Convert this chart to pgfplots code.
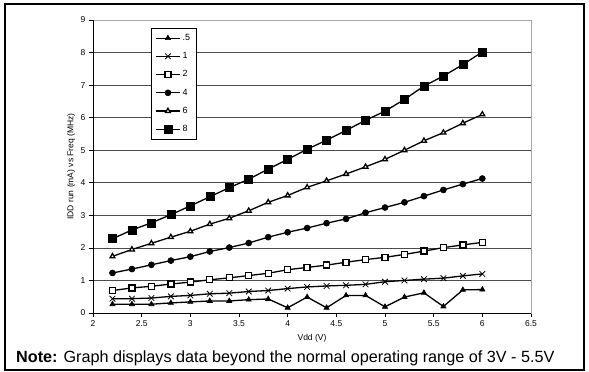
\documentclass[border=0pt]{standalone}
\usepackage{fontspec}
\setmainfont{Liberation Sans}
\usepackage{pgfplots}
\usepackage{pgfplotstable}
\pgfplotsset{compat=1.18}
\pgfplotstableread{
x a b c d e f
2.2 0.27 0.44 0.69 1.23 1.74 2.28
2.4 0.27 0.44 0.77 1.35 1.95 2.55
2.6 0.27 0.46 0.82 1.48 2.14 2.77
2.8 0.31 0.51 0.89 1.61 2.33 3.02
3.0 0.34 0.54 0.95 1.73 2.51 3.29
3.2 0.37 0.59 1.02 1.89 2.73 3.57
3.4 0.37 0.61 1.08 2.01 2.91 3.85
3.6 0.41 0.66 1.15 2.15 3.14 4.11
3.8 0.43 0.69 1.22 2.33 3.40 4.42
4.0 0.16 0.75 1.33 2.48 3.61 4.72
4.2 0.49 0.80 1.40 2.61 3.86 5.03
4.4 0.16 0.83 1.47 2.76 4.06 5.31
4.6 0.54 0.85 1.56 2.89 4.27 5.61
4.8 0.54 0.88 1.64 3.08 4.49 5.92
5.0 0.19 0.96 1.71 3.24 4.72 6.20
5.2 0.49 1.00 1.80 3.40 5.00 6.56
5.4 0.62 1.04 1.90 3.59 5.29 6.97
5.6 0.20 1.07 2.01 3.78 5.54 7.28
5.8 0.71 1.14 2.09 3.96 5.83 7.63
6.0 0.72 1.20 2.17 4.13 6.10 8.02
}\datatable
\begin{document}
\begin{tikzpicture}[x=1pt,y=1pt]
\begin{axis}[
  scale only axis,
  width=438pt, height=293pt,
  xmin=2, xmax=6.5, ymin=0, ymax=9,
  xtick={2,2.5,...,6.5}, ytick={0,1,...,9},
  tick align=outside, xtick pos=left, ytick pos=left,
  major tick length=4pt,
  tick style={black, line width=0.6pt},
  /pgf/number format/assume math mode=true,
  ticklabel style={font=\fontsize{8.5}{9}\selectfont},
  ymajorgrids, major grid style={black!70, line width=0.7pt},
  axis line style={draw=gray!70, line width=0.8pt},
  every axis y label/.style={at={(axis description cs:-0.05,0.5)}, rotate=90, anchor=center, font=\fontsize{8.5}{9}\selectfont},
  every axis x label/.style={at={(axis description cs:0.5,-0.087)}, anchor=center, font=\fontsize{8.5}{9}\selectfont},
  xlabel={Vdd (V)},
  ylabel={IDD run (mA) vs Freq (MHz)},
  legend style={at={(0.1324,0.9727)}, anchor=north west, draw=black, line width=0.6pt,
    font=\fontsize{9}{9}\selectfont, row sep=6.5pt, inner sep=4pt},
  legend cell align=left,
  legend image code/.code={\draw[mark repeat=2,mark phase=2] plot coordinates {(0pt,0pt) (12pt,0pt) (24pt,0pt)};},
  every axis plot/.append style={black, line width=1.3pt, mark options={solid, line width=0.6pt}},
]
\addplot[mark=triangle*, mark size=3pt] table[x=x,y=a]{\datatable};
\addlegendentry{.5}
\addplot[mark=x, mark size=4pt, mark options={line width=0.8pt}] table[x=x,y=b]{\datatable};
\addlegendentry{1}
\addplot[mark=square*, mark size=3pt, mark options={fill=white, draw=black}] table[x=x,y=c]{\datatable};
\addlegendentry{2}
\addplot[mark=*, mark size=3pt] table[x=x,y=d]{\datatable};
\addlegendentry{4}
\addplot[mark=triangle*, mark size=2.8pt, mark options={fill=white, draw=black}] table[x=x,y=e]{\datatable};
\addlegendentry{6}
\addplot[mark=square*, mark size=4pt] table[x=x,y=f]{\datatable};
\addlegendentry{8}
\draw[black, line width=0.8pt] (rel axis cs:0,1) -- (rel axis cs:0,0) -- (rel axis cs:1,0);
\end{axis}
\node[anchor=west, font=\fontsize{16.2}{18}\selectfont, inner sep=0pt] at (-77,-45) {\textbf{Note:} Graph displays data beyond the normal operating range of 3V - 5.5V};
\draw[line width=2pt] (-88,-56.5) rectangle (491,308.5);
\pgfresetboundingbox
\path[use as bounding box] (-93,-59) rectangle (496,313);
\end{tikzpicture}
\end{document}
